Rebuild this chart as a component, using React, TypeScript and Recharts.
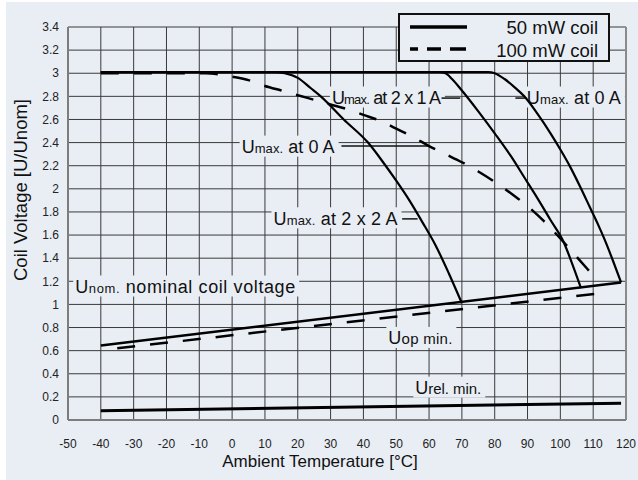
import React from 'react';
import {
  LineChart,
  Line,
  XAxis,
  YAxis,
  CartesianGrid,
  ReferenceLine,
  ReferenceDot,
} from 'recharts';

const FONT = '"Liberation Sans", Arial, Helvetica, sans-serif';
const BG = '#e9eef5';

// axis ticks
const tempTicks = [-50, -40, -30, -20, -10, 0, 10, 20, 30, 40, 50, 60, 70, 80, 90, 100, 110, 120];
const voltTicks = [0, 0.2, 0.4, 0.6, 0.8, 1, 1.2, 1.4, 1.6, 1.8, 2, 2.2, 2.4, 2.6, 2.8, 3, 3.2, 3.4];

const legendLabels = ['50 mW coil', '100 mW coil'];

// 50 mW coil (solid)
const umax0A = [
  { t: -40, u: 3.01 }, { t: 78, u: 3.01 }, { t: 80, u: 3.0 }, { t: 83, u: 2.95 },
  { t: 86, u: 2.88 }, { t: 89, u: 2.8 }, { t: 93, u: 2.65 }, { t: 97, u: 2.48 },
  { t: 100, u: 2.34 }, { t: 103, u: 2.19 }, { t: 106, u: 2.02 }, { t: 109, u: 1.84 },
  { t: 111.5, u: 1.69 }, { t: 113.5, u: 1.56 }, { t: 116, u: 1.38 }, { t: 118.5, u: 1.19 },
];
const umax2x1A = [
  { t: -40, u: 3.01 }, { t: 63, u: 3.01 }, { t: 65, u: 3.0 }, { t: 67, u: 2.95 },
  { t: 70, u: 2.85 }, { t: 75, u: 2.67 }, { t: 80, u: 2.48 }, { t: 85, u: 2.28 },
  { t: 89, u: 2.1 }, { t: 93, u: 1.92 }, { t: 97, u: 1.73 }, { t: 101, u: 1.54 },
  { t: 103.5, u: 1.36 }, { t: 106.3, u: 1.14 },
];
const umax2x2A = [
  { t: -40, u: 3.01 }, { t: 13, u: 3.01 }, { t: 16, u: 3.0 }, { t: 20, u: 2.96 },
  { t: 24, u: 2.87 }, { t: 27, u: 2.8 }, { t: 34, u: 2.6 }, { t: 41.4, u: 2.4 },
  { t: 46, u: 2.23 }, { t: 50, u: 2.07 }, { t: 54, u: 1.9 }, { t: 58, u: 1.71 },
  { t: 62, u: 1.51 }, { t: 66, u: 1.27 }, { t: 70, u: 1.01 },
];
const uopMin50 = [{ t: -40, u: 0.645 }, { t: 118.5, u: 1.19 }];
const urelMin50 = [{ t: -40, u: 0.08 }, { t: 118.5, u: 0.145 }];

// 100 mW coil (dashed)
const umax0A100 = [
  { t: -40, u: 3.0 }, { t: -8, u: 3.0 }, { t: -4, u: 2.99 }, { t: 0, u: 2.97 },
  { t: 5, u: 2.94 }, { t: 10, u: 2.89 }, { t: 15, u: 2.85 }, { t: 20, u: 2.81 },
  { t: 25, u: 2.77 }, { t: 30, u: 2.73 }, { t: 35, u: 2.69 }, { t: 40, u: 2.64 },
  { t: 45, u: 2.59 }, { t: 50, u: 2.52 }, { t: 55, u: 2.45 }, { t: 60, u: 2.37 },
  { t: 65, u: 2.3 }, { t: 70, u: 2.23 }, { t: 75, u: 2.15 }, { t: 80, u: 2.06 },
  { t: 85, u: 1.96 }, { t: 90, u: 1.85 }, { t: 95, u: 1.72 }, { t: 100, u: 1.57 },
  { t: 105, u: 1.41 }, { t: 110, u: 1.25 },
];
const uopMin100 = [{ t: -35, u: 0.62 }, { t: 113.5, u: 1.1 }];

// annotation texts, anchored at their left edge
const notes = [
  { t: 30.4, u: 2.79, sub: 'max.', text: ' at 2 x 1 A', w: 109, subSize: 13 },
  { t: 89.8, u: 2.79, sub: 'max.', text: ' at 0 A', w: 94, subSize: 13 },
  { t: 2.9, u: 2.365, sub: 'max.', text: ' at 0 A', w: 93, subSize: 13 },
  { t: 12.6, u: 1.745, sub: 'max.', text: ' at 2 x 2 A', w: 124, subSize: 13 },
  { t: -47.8, u: 1.155, sub: 'nom.', text: ' nominal coil voltage', w: 220, subSize: 13 },
  { t: 47.6, u: 0.71, sub: 'op min.', text: '', w: 64, subSize: 15 },
  { t: 55.8, u: 0.28, sub: 'rel. min.', text: '', w: 66, subSize: 15 },
];

const leaders = [
  [{ x: 63.8, y: 2.785 }, { x: 69.5, y: 2.785 }],
  [{ x: 86.3, y: 2.785 }, { x: 89.6, y: 2.785 }],
  [{ x: 33.3, y: 2.37 }, { x: 60.3, y: 2.37 }],
  [{ x: 51.8, y: 1.74 }, { x: 56.5, y: 1.74 }],
];

function NoteShape(props: any) {
  const { cx, cy, note } = props;
  return (
    <g>
      <rect x={cx - 2} y={cy - 11} width={note.w + 6} height={21} fill={BG} />
      <text
        x={cx}
        y={cy + 6.5}
        fontFamily={FONT}
        fill='#111'
        textLength={note.w}
        lengthAdjust='spacing'
      >
        <tspan fontSize={18}>U</tspan>
        <tspan fontSize={note.subSize}>{note.sub}</tspan>
        {note.text && <tspan fontSize={18}>{note.text}</tspan>}
      </text>
    </g>
  );
}

export default function App() {
  const tick = { fontSize: 12, fill: '#222', fontFamily: FONT };
  return (
    <div
      style={{
        position: 'absolute',
        left: 0,
        top: 0,
        width: 638,
        height: 480,
        background: '#ffffff',
      }}
    >
      <div
        style={{
          position: 'absolute',
          left: 6,
          top: 2,
          width: 632,
          height: 478,
          background: BG,
        }}
      />
      <div style={{ position: 'absolute', left: 0, top: 0 }}>
        <LineChart
          width={638}
          height={480}
          margin={{ top: 27, right: 12, bottom: 0, left: 0 }}
        >
          <CartesianGrid stroke='#3a3a3a' strokeWidth={1} />
          <XAxis
            type='number'
            dataKey='t'
            domain={[-50, 120]}
            ticks={tempTicks}
            interval={0}
            height={60}
            tickLine={false}
            tickSize={0}
            tickMargin={19}
            axisLine={{ stroke: '#7d7d7d', strokeWidth: 2 }}
            tick={tick}
            label={() => (
              <text
                x={320}
                y={467}
                textAnchor='middle'
                fontSize={17}
                fontFamily={FONT}
                fill='#111'
              >
                Ambient Temperature [°C]
              </text>
            )}
          />
          <YAxis
            type='number'
            domain={[0, 3.4]}
            ticks={voltTicks}
            interval={0}
            width={68}
            tickLine={false}
            tickSize={0}
            tickMargin={9}
            axisLine={{ stroke: '#7d7d7d', strokeWidth: 2 }}
            tick={tick}
            label={() => (
              <text
                transform='translate(27, 190) rotate(-90)'
                textAnchor='middle'
                fontSize={18.5}
                fontFamily={FONT}
                fill='#111'
              >
                Coil Voltage [U/Unom]
              </text>
            )}
          />
          <ReferenceLine x={120} stroke='#8a8a8a' strokeWidth={2} />

          {notes.map((n, i) => (
            <ReferenceDot
              key={'n' + i}
              x={n.t}
              y={n.u}
              r={0}
              zIndex={-50}
              shape={(p: any) => <NoteShape {...p} note={n} />}
            />
          ))}
          {leaders.map((seg, i) => (
            <ReferenceLine
              key={'l' + i}
              segment={seg}
              stroke='#111'
              strokeWidth={1.5}
            />
          ))}

          <Line data={urelMin50} dataKey='u' type='linear' stroke='#000' strokeWidth={3} dot={false} isAnimationActive={false} />
          <Line data={uopMin50} dataKey='u' type='linear' stroke='#000' strokeWidth={2.5} dot={false} isAnimationActive={false} />
          <Line data={uopMin100} dataKey='u' type='linear' stroke='#000' strokeWidth={2.5} strokeDasharray='18 15' dot={false} isAnimationActive={false} />
          <Line data={umax0A100} dataKey='u' type='monotone' stroke='#000' strokeWidth={2.5} strokeDasharray='18 15' dot={false} isAnimationActive={false} />
          <Line data={umax2x2A} dataKey='u' type='monotone' stroke='#000' strokeWidth={2.2} dot={false} isAnimationActive={false} />
          <Line data={umax2x1A} dataKey='u' type='monotone' stroke='#000' strokeWidth={2.2} dot={false} isAnimationActive={false} />
          <Line data={umax0A} dataKey='u' type='monotone' stroke='#000' strokeWidth={2.2} dot={false} isAnimationActive={false} />
        </LineChart>
      </div>
      <div
        style={{
          position: 'absolute',
          left: 398,
          top: 13,
          width: 212,
          height: 49,
          boxSizing: 'border-box',
          border: '2.5px solid #111',
          background: BG,
        }}
      >
        <svg width={207} height={44} style={{ display: 'block', overflow: 'visible' }}>
          <line x1={10} x2={67} y1={12} y2={12} stroke='#000' strokeWidth={3.5} />
          <line x1={10} x2={67} y1={34} y2={34} stroke='#000' strokeWidth={3.5} strokeDasharray='8 9 14 9 16' />
          {legendLabels.map((l, i) => (
            <text
              key={l}
              x={198}
              y={19 + i * 23}
              textAnchor='end'
              fontSize={18.5}
              fontFamily={FONT}
              fill='#111'
            >
              {l}
            </text>
          ))}
        </svg>
      </div>
    </div>
  );
}
